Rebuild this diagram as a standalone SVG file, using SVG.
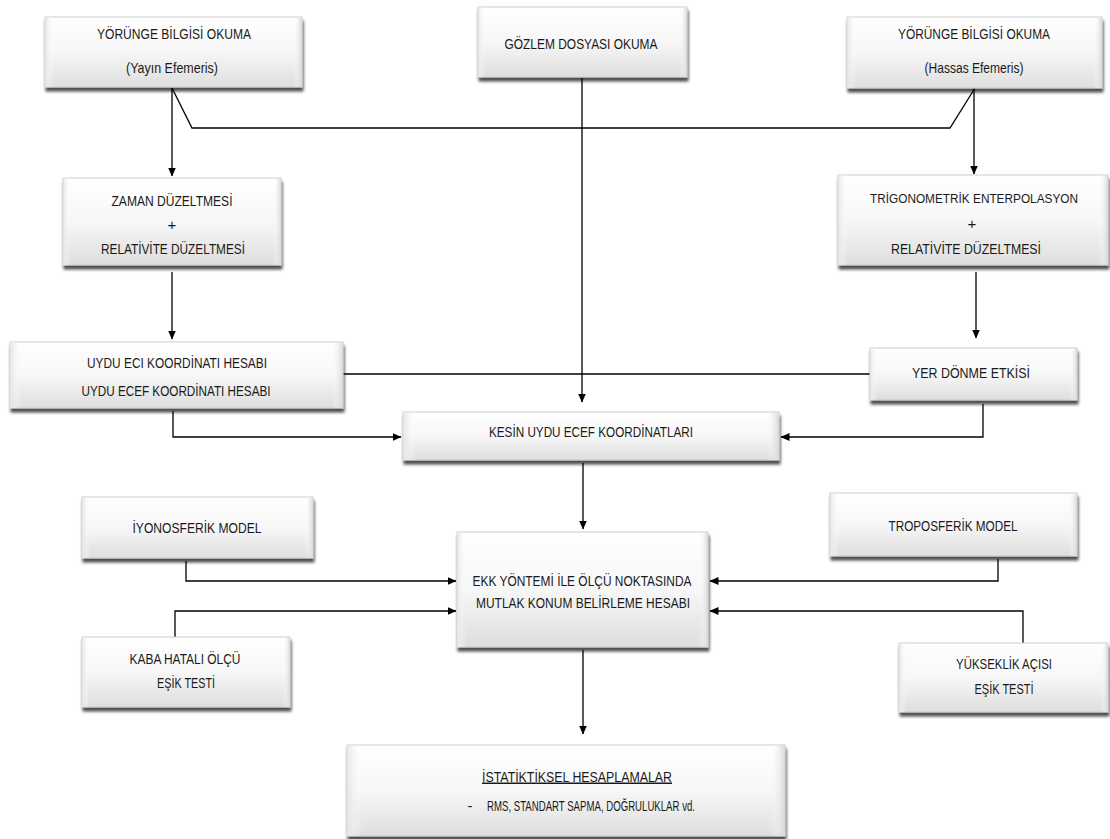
<svg xmlns="http://www.w3.org/2000/svg" width="1110" height="839" viewBox="0 0 1110 839">
<defs>
<linearGradient id="g" x1="0" y1="0" x2="0" y2="1">
<stop offset="0" stop-color="#ffffff"/>
<stop offset="0.5" stop-color="#f7f7f7"/>
<stop offset="1" stop-color="#dedede"/>
</linearGradient>
<linearGradient id="gl" x1="0" y1="0" x2="1" y2="0">
<stop offset="0" stop-color="#e4e4e4"/>
<stop offset="0.035" stop-color="#ffffff" stop-opacity="0"/>
<stop offset="0.965" stop-color="#ffffff" stop-opacity="0"/>
<stop offset="1" stop-color="#d8d8d8"/>
</linearGradient>
<filter id="sh" x="-5%" y="-10%" width="110%" height="130%">
<feGaussianBlur in="SourceAlpha" stdDeviation="1.4"/>
<feOffset dx="1" dy="3.5" result="b"/>
<feComponentTransfer><feFuncA type="linear" slope="0.7"/></feComponentTransfer>
<feMerge><feMergeNode/><feMergeNode in="SourceGraphic"/></feMerge>
</filter>
<marker id="ah" markerWidth="9" markerHeight="8" refX="8.5" refY="4" orient="auto" markerUnits="userSpaceOnUse">
<path d="M0,0 L9,4 L0,8 Z" fill="#000"/>
</marker>
</defs>
<style>
.box{fill:url(#g);stroke:#cccccc;stroke-width:1;filter:url(#sh)}
.bev{fill:url(#gl);stroke:none}
.t{font-family:"Liberation Sans",Arial,sans-serif;font-size:15px;fill:#1a1a1a;text-anchor:middle}
.s{font-size:12.5px}
.c{fill:none;stroke:#000;stroke-width:1.3}
.a{marker-end:url(#ah)}
</style>
<rect width="1110" height="839" fill="#fff"/>

<g id="connectors">
<path class="c a" d="M172,88 V176"/>
<path class="c" d="M172,88 L192,128 H950 L975,88"/>
<path class="c a" d="M974,88 V174"/>
<path class="c a" d="M582,78 V402"/>
<path class="c a" d="M172,272 V339"/>
<path class="c a" d="M976,272 V338"/>
<path class="c" d="M343,374 H870"/>
<path class="c a" d="M173,411 V437 H401"/>
<path class="c a" d="M983,404 V437 H781"/>
<path class="c a" d="M583,463 V529"/>
<path class="c a" d="M186,561 V581 H456"/>
<path class="c a" d="M175,637 V611 H456"/>
<path class="c a" d="M998,559 V581 H710"/>
<path class="c a" d="M1023,643 V611 H710"/>
<path class="c a" d="M583,650 V734"/>
</g>

<g id="n1"><rect class="box" x="45" y="17" width="257" height="70"/><rect class="bev" x="45" y="17" width="257" height="70"/>
<text class="t" x="174" y="38.5" textLength="154" lengthAdjust="spacingAndGlyphs">YÖRÜNGE BİLGİSİ OKUMA</text>
<text class="t" x="172" y="72.5" textLength="92" lengthAdjust="spacingAndGlyphs">(Yayın Efemeris)</text></g>

<g id="n2"><rect class="box" x="478" y="7" width="209" height="70"/><rect class="bev" x="478" y="7" width="209" height="70"/>
<text class="t" x="581" y="48.5" textLength="153" lengthAdjust="spacingAndGlyphs">GÖZLEM DOSYASI OKUMA</text></g>

<g id="n3"><rect class="box" x="847" y="17" width="255" height="71"/><rect class="bev" x="847" y="17" width="255" height="71"/>
<text class="t" x="974" y="38.5" textLength="152" lengthAdjust="spacingAndGlyphs">YÖRÜNGE BİLGİSİ OKUMA</text>
<text class="t" x="974" y="72.5" textLength="99" lengthAdjust="spacingAndGlyphs">(Hassas Efemeris)</text></g>

<g id="n4"><rect class="box" x="63" y="178" width="218" height="87"/><rect class="bev" x="63" y="178" width="218" height="87"/>
<text class="t" x="172" y="205.5" textLength="121" lengthAdjust="spacingAndGlyphs">ZAMAN DÜZELTMESİ</text>
<text class="t" x="172" y="230">+</text>
<text class="t" x="173" y="253.5" textLength="144" lengthAdjust="spacingAndGlyphs">RELATİVİTE DÜZELTMESİ</text></g>

<g id="n5"><rect class="box" x="838" y="175" width="270" height="90"/><rect class="bev" x="838" y="175" width="270" height="90"/>
<text class="t s" x="974" y="202.5" textLength="208" lengthAdjust="spacingAndGlyphs">TRİGONOMETRİK ENTERPOLASYON</text>
<text class="t" x="972" y="229">+</text>
<text class="t" x="966" y="253.5" textLength="150" lengthAdjust="spacingAndGlyphs">RELATİVİTE DÜZELTMESİ</text></g>

<g id="n6"><rect class="box" x="10" y="342" width="333" height="66"/><rect class="bev" x="10" y="342" width="333" height="66"/>
<text class="t" x="177" y="367.5" textLength="180" lengthAdjust="spacingAndGlyphs">UYDU ECI KOORDİNATI HESABI</text>
<text class="t" x="176" y="395.5" textLength="189" lengthAdjust="spacingAndGlyphs">UYDU ECEF KOORDİNATI HESABI</text></g>

<g id="n7"><rect class="box" x="870" y="348" width="207" height="52"/><rect class="bev" x="870" y="348" width="207" height="52"/>
<text class="t" x="971" y="377.5" textLength="118" lengthAdjust="spacingAndGlyphs">YER DÖNME ETKİSİ</text></g>

<g id="n8"><rect class="box" x="403" y="412" width="376" height="48"/><rect class="bev" x="403" y="412" width="376" height="48"/>
<text class="t" x="591" y="436.5" textLength="204" lengthAdjust="spacingAndGlyphs">KESİN UYDU ECEF KOORDİNATLARI</text></g>

<g id="n9"><rect class="box" x="82" y="497" width="231" height="61"/><rect class="bev" x="82" y="497" width="231" height="61"/>
<text class="t" x="197" y="532.5" textLength="129" lengthAdjust="spacingAndGlyphs">İYONOSFERİK MODEL</text></g>

<g id="n10"><rect class="box" x="830" y="493" width="247" height="63"/><rect class="bev" x="830" y="493" width="247" height="63"/>
<text class="t" x="953" y="530.5" textLength="129" lengthAdjust="spacingAndGlyphs">TROPOSFERİK MODEL</text></g>

<g id="n11"><rect class="box" x="457" y="532" width="251" height="115"/><rect class="bev" x="457" y="532" width="251" height="115"/>
<text class="t" x="582" y="585.5" textLength="219" lengthAdjust="spacingAndGlyphs">EKK YÖNTEMİ İLE ÖLÇÜ NOKTASINDA</text>
<text class="t" x="583" y="607.5" textLength="214" lengthAdjust="spacingAndGlyphs">MUTLAK KONUM BELİRLEME HESABI</text></g>

<g id="n12"><rect class="box" x="82" y="637" width="208" height="70"/><rect class="bev" x="82" y="637" width="208" height="70"/>
<text class="t" x="185" y="663.5" textLength="111" lengthAdjust="spacingAndGlyphs">KABA HATALI ÖLÇÜ</text>
<text class="t" x="186" y="687.5" textLength="58" lengthAdjust="spacingAndGlyphs">EŞİK TESTİ</text></g>

<g id="n13"><rect class="box" x="899" y="643" width="209" height="69"/><rect class="bev" x="899" y="643" width="209" height="69"/>
<text class="t" x="1004" y="668.5" textLength="96" lengthAdjust="spacingAndGlyphs">YÜKSEKLİK AÇISI</text>
<text class="t" x="1004" y="693.5" textLength="59" lengthAdjust="spacingAndGlyphs">EŞİK TESTİ</text></g>

<g id="n14"><rect class="box" x="347" y="745" width="438" height="91"/><rect class="bev" x="347" y="745" width="438" height="91"/>
<text class="t" x="577" y="781.5" textLength="190" lengthAdjust="spacingAndGlyphs" text-decoration="underline">İSTATİKTİKSEL HESAPLAMALAR</text>
<text class="t" x="470" y="810.5">-</text>
<text class="t" x="487" y="810.5" style="text-anchor:start" textLength="208" lengthAdjust="spacingAndGlyphs">RMS, STANDART SAPMA, DOĞRULUKLAR vd.</text></g>
</svg>
